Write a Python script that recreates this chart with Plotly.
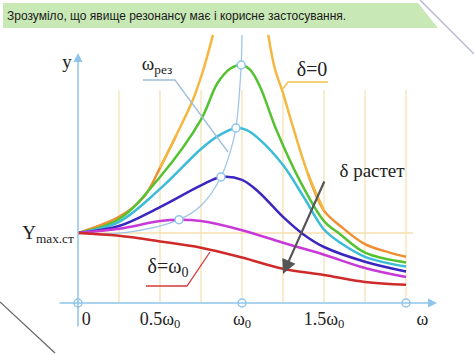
import plotly.graph_objects as go

# ---------------- data (x in units of omega0, y in units of Y_max.st) ----------------
# delta = 0 curve: lower (orange) and upper (yellowish) parts of both branches
orange_lo_x = [0, 0.25, 0.4, 0.5, 0.6, None, 1.4, 1.5, 1.6, 1.75, 1.9, 2.0]
orange_lo_y = [1.0, 1.23, 1.51, 1.93, 2.4, None, 1.86, 1.32, 1.1, 0.84, 0.72, 0.66]
orange_hi_x = [0.5, 0.6, 0.7, 0.76, 0.823, None, 1.16, 1.2, 1.25, 1.3, 1.4, 1.5]
orange_hi_y = [1.93, 2.4, 2.9, 3.3, 3.83, None, 3.83, 3.35, 3.0, 2.6, 1.86, 1.32]

green_x = [0, 0.25, 0.5, 0.75, 0.85, 0.93, 0.995, 1.05, 1.11, 1.21, 1.35, 1.5, 1.6, 1.75, 2.0]
green_y = [1.0, 1.2, 1.8, 2.62, 3.14, 3.35, 3.4, 3.33, 3.09, 2.47, 1.76, 1.17, 0.98, 0.72, 0.58]

cyan_x = [0, 0.25, 0.5, 0.75, 0.85, 0.963, 1.03, 1.11, 1.25, 1.38, 1.5, 1.6, 1.75, 2.0]
cyan_y = [1.0, 1.16, 1.63, 2.2, 2.38, 2.5, 2.47, 2.33, 1.97, 1.5, 1.05, 0.86, 0.66, 0.52]

blue_x = [0, 0.25, 0.5, 0.75, 0.872, 1.0, 1.1, 1.25, 1.375, 1.5, 1.75, 2.0]
blue_y = [1.0, 1.1, 1.37, 1.68, 1.8, 1.76, 1.59, 1.23, 0.98, 0.8, 0.59, 0.45]

magenta_x = [0, 0.25, 0.5, 0.616, 0.75, 1.0, 1.25, 1.5, 1.75, 2.0]
magenta_y = [1.0, 1.06, 1.17, 1.19, 1.17, 1.04, 0.86, 0.69, 0.5, 0.37]

red_x = [0, 0.25, 0.5, 0.75, 1.0, 1.25, 1.5, 1.75, 2.0]
red_y = [1.0, 0.96, 0.88, 0.79, 0.65, 0.49, 0.4, 0.3, 0.26]

# locus of resonance peaks (omega_рез)
res_x = [0, 0.3, 0.616, 0.754, 0.872, 0.937, 0.963, 0.995, 1.0]
res_y = [1.0, 1.01, 1.19, 1.4, 1.8, 2.23, 2.5, 3.4, 3.83]
peak_x = [0.616, 0.872, 0.963, 0.995]
peak_y = [1.19, 1.8, 2.5, 3.4]

grid_x = [0.25, 0.5, 0.75, 1.0, 1.25, 1.5, 1.75, 2.0]
tick_vals = [0.05, 0.5, 1.0, 1.5, 2.1]
tick_text = ["0", "0.5ω<sub>0</sub>", "ω<sub>0</sub>", "1.5ω<sub>0</sub>", "ω"]
axis_marks_x = [0, 1, 2]

title_text = "Зрозуміло, що явище резонансу має і корисне застосування."

# ---------------- layout helpers (pixel -> data) ----------------
W, H = 474, 355
X0, SX = 78, 164   # pixel of x=0 and pixels per omega0
Y0, SY = 303, 70   # pixel of y=0 and pixels per unit


def px(p):
    return (p - X0) / SX


def py(p):
    return (Y0 - p) / SY


SERIF = "Liberation Serif, DejaVu Serif, serif"
AXIS_C = "#8ec5ea"
GRID_C = "#f6dfae"

fig = go.Figure()

# grid lines
for gx in grid_x:
    fig.add_shape(type="line", x0=gx, x1=gx, y0=0, y1=py(90),
                  line=dict(color=GRID_C, width=1.2), layer="below")
fig.add_shape(type="line", x0=0, x1=px(413), y0=1, y1=1,
              line=dict(color=GRID_C, width=1.5), layer="below")

# axes
fig.add_annotation(x=px(437), y=0, ax=px(58), ay=0, xref="x", yref="y", axref="x", ayref="y",
                   showarrow=True, arrowhead=2, arrowsize=1.2, arrowwidth=1.5, arrowcolor=AXIS_C, text="")
fig.add_annotation(x=0, y=py(53), ax=0, ay=py(328), xref="x", yref="y", axref="x", ayref="y",
                   showarrow=True, arrowhead=2, arrowsize=1.2, arrowwidth=1.5, arrowcolor=AXIS_C, text="")

# resonance locus
fig.add_trace(go.Scatter(x=res_x, y=res_y, mode="lines", line=dict(color="#9fc6e8", width=1.3, shape="spline"),
                         hoverinfo="skip"))

curves = [
    (orange_lo_x, orange_lo_y, "#ef8f34"),
    (orange_hi_x, orange_hi_y, "#f4b73f"),
    (green_x, green_y, "#55c232"),
    (cyan_x, cyan_y, "#3cbcd8"),
    (blue_x, blue_y, "#3b27bf"),
    (magenta_x, magenta_y, "#c83ad8"),
    (red_x, red_y, "#cf2a2a"),
]
for cx, cy, col in curves:
    fig.add_trace(go.Scatter(x=cx, y=cy, mode="lines", connectgaps=False,
                             line=dict(color=col, width=2.5, shape="spline", smoothing=1.0),
                             hoverinfo="skip"))

# peak circles
fig.add_trace(go.Scatter(x=peak_x, y=peak_y, mode="markers", hoverinfo="skip",
                         marker=dict(size=8, color="white", line=dict(color=AXIS_C, width=1.5))))
fig.add_trace(go.Scatter(x=axis_marks_x, y=[0] * len(axis_marks_x), mode="markers", hoverinfo="skip",
                         marker=dict(size=8, color="white", line=dict(color=AXIS_C, width=1.5))))

# leader lines
fig.add_trace(go.Scatter(x=[px(143), px(175), px(228)], y=[py(80), py(80), py(152)], mode="lines",
                         line=dict(color="#9fbfdc", width=1.3), hoverinfo="skip"))
fig.add_trace(go.Scatter(x=[px(282), px(288), px(328)], y=[py(90), py(82), py(82)], mode="lines",
                         line=dict(color="#f4c24c", width=1.5), hoverinfo="skip"))
fig.add_trace(go.Scatter(x=[px(146), px(187), px(210)], y=[py(286), py(286), py(252)], mode="lines",
                         line=dict(color="#d43a3a", width=1.3), hoverinfo="skip"))

# delta grows arrow
fig.add_annotation(x=px(283), y=py(274), ax=px(325), ay=py(180), xref="x", yref="y", axref="x", ayref="y",
                   showarrow=True, arrowhead=2, arrowsize=1.3, arrowwidth=2.2, arrowcolor="#555555", text="")

# tick labels (as text marks)
fig.add_trace(go.Scatter(x=tick_vals, y=[py(320)] * len(tick_vals), mode="text", text=tick_text,
                         textposition="middle center", hoverinfo="skip",
                         textfont=dict(family=SERIF, size=18, color="#222222")))

# text labels
label_x = [px(67), px(48), px(157), px(312), px(372), px(168)]
label_y = [py(63), py(234), py(65), py(71), py(172), py(268)]
label_t = ["y", "Y<sub>max.ст</sub>", "ω<sub>рез</sub>", "δ=0", "δ растет", "δ=ω<sub>0</sub>"]
label_s = [19, 19, 19, 20, 19, 20]
fig.add_trace(go.Scatter(x=label_x, y=label_y, mode="text", text=label_t,
                         textposition="middle center", hoverinfo="skip",
                         textfont=dict(family=SERIF, size=label_s, color="#222222")))

# title banner (slide decoration)
fig.add_shape(type="path", xref="paper", yref="paper",
              path=f"M {3/W},{1-3/H} L {418/W},{1-3/H} L {438/W},{1-28/H} L {3/W},{1-28/H} Z",
              fillcolor="#c8e8b6", line=dict(width=0), layer="below")
fig.add_annotation(xref="paper", yref="paper", x=5 / W, y=1 - 16 / H, text=title_text, showarrow=False,
                   xanchor="left", yanchor="middle",
                   font=dict(family="Liberation Sans, Arial, sans-serif", size=12, color="#1a1a1a"))
fig.add_shape(type="line", xref="paper", yref="paper", x0=420 / W, y0=1, x1=474 / W, y1=1 - 54 / H,
              line=dict(color="#b9b9d6", width=1.5))
fig.add_shape(type="line", xref="paper", yref="paper", x0=0, y0=1 - 302 / H, x1=55 / W, y1=1 - 353 / H,
              line=dict(color="#666666", width=1.2))

fig.update_layout(
    width=W, height=H, autosize=False,
    margin=dict(l=0, r=0, t=0, b=0),
    font=dict(family=SERIF, size=18, color="#222222"),
    paper_bgcolor="white", plot_bgcolor="white",
    showlegend=False,
    xaxis=dict(range=[px(0), px(W)], visible=False, fixedrange=True),
    yaxis=dict(range=[py(H), py(0)], visible=False, fixedrange=True),
)

fig.write_html("out.html", config={"displayModeBar": False},
               post_script="document.body.style.margin='0';")
